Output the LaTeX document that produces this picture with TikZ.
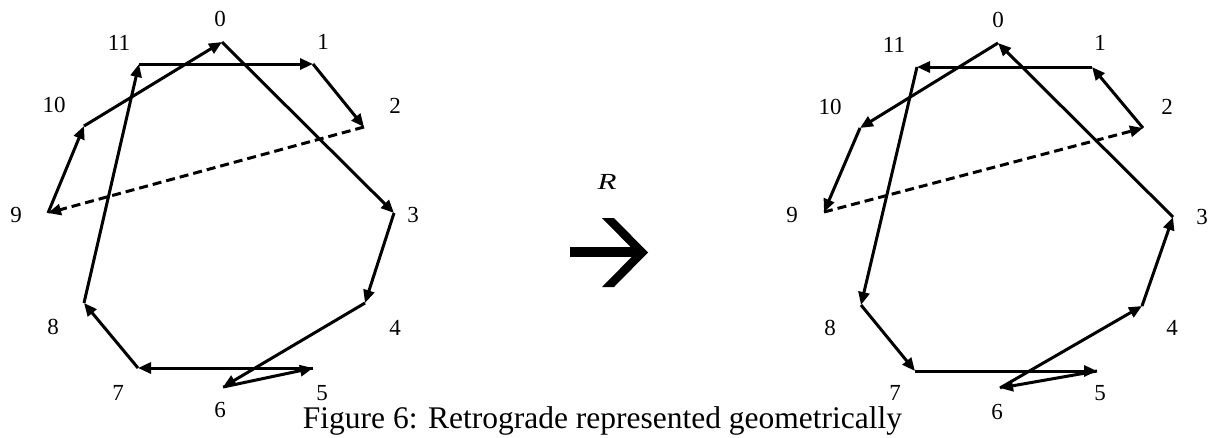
\documentclass[tikz,border=0pt]{standalone}
\usepackage{graphicx}
\usepackage{fontspec}
\setmainfont{Liberation Serif}
\usetikzlibrary{arrows.meta}
\begin{document}
\begin{tikzpicture}[x=1pt,y=-1pt,
  edge/.style={line width=3pt, -{Triangle[length=13pt,width=11pt]}},
  dashedge/.style={edge, dash pattern=on 9pt off 5pt},
  lab/.style={font=\fontsize{23}{23}\selectfont, inner sep=0pt},
  captext/.style={font=\fontsize{31.5}{31.5}\selectfont, inner sep=0pt}]
\useasboundingbox (0,0) rectangle (1212,437);
% ---------- left figure ----------
\coordinate (L0) at (222,42);
\coordinate (L1) at (313,64);
\coordinate (L2) at (364,127);
\coordinate (L3) at (394,213);
\coordinate (L4) at (365,303);
\coordinate (L5) at (313,368);
\coordinate (L6) at (223,387);
\coordinate (L7) at (138,368);
\coordinate (L8) at (84,303);
\coordinate (L9) at (48,213);
\coordinate (L10) at (84,126);
\coordinate (L11) at (139,64);
\node[lab] (l0) at (220,19) {0};
\node[lab] (l1) at (323,42) {1};
\node[lab] (l2) at (395,106) {2};
\node[lab] (l3) at (413,215) {3};
\node[lab] (l4) at (395,328) {4};
\node[lab] (l5) at (322,393) {5};
\node[lab] (l6) at (220,410) {6};
\node[lab] (l7) at (118,393) {7};
\node[lab] (l8) at (53,327) {8};
\node[lab] (l9) at (16,215) {9};
\node[lab] (l10) at (54,105) {10};
\node[lab] (l11) at (119,43) {11};
\draw[edge] (L0) -- (L3);
\draw[edge] (L3) -- (L4);
\draw[edge] (L4) -- (L6);
\draw[edge] (L6) -- (L5);
\draw[edge] (L5) -- (L7);
\draw[edge] (L7) -- (L8);
\draw[edge] (L8) -- (L11);
\draw[edge] (L11) -- (L1);
\draw[edge] (L1) -- (L2);
\draw[dashedge] (L2) -- (L9);
\draw[edge] (L9) -- (L10);
\draw[edge] (L10) -- (L0);
% ---------- right figure ----------
\coordinate (R0) at (998,43);
\coordinate (R1) at (1092,67);
\coordinate (R2) at (1143,128);
\coordinate (R3) at (1173,217);
\coordinate (R4) at (1142,306);
\coordinate (R5) at (1097,371);
\coordinate (R6) at (1000,388);
\coordinate (R7) at (915,371);
\coordinate (R8) at (861,305);
\coordinate (R9) at (824,212);
\coordinate (R10) at (860,128);
\coordinate (R11) at (917,67);
\node[lab] (r0) at (998,20) {0};
\node[lab] (r1) at (1100,43) {1};
\node[lab] (r2) at (1167,107) {2};
\node[lab] (r3) at (1202,217) {3};
\node[lab] (r4) at (1172,328) {4};
\node[lab] (r5) at (1100,393) {5};
\node[lab] (r6) at (997,412) {6};
\node[lab] (r7) at (895,393) {7};
\node[lab] (r8) at (830,328) {8};
\node[lab] (r9) at (792,215) {9};
\node[lab] (r10) at (830,107) {10};
\node[lab] (r11) at (894,45) {11};
\draw[edge] (R3) -- (R0);
\draw[edge] (R4) -- (R3);
\draw[edge] (R6) -- (R4);
\draw[edge] (R5) -- (R6);
\draw[edge] (R7) -- (R5);
\draw[edge] (R8) -- (R7);
\draw[edge] (R11) -- (R8);
\draw[edge] (R1) -- (R11);
\draw[edge] (R2) -- (R1);
\draw[dashedge] (R9) -- (R2);
\draw[edge] (R10) -- (R9);
\draw[edge] (R0) -- (R10);
% ---------- middle ----------
\node[font=\fontsize{23}{23}\selectfont\itshape, inner sep=0pt] (rlab) at (607,182) {\scalebox{1.35}[1]{R}};
\fill (570,247) -- (636,247) -- (636,257) -- (570,257) -- cycle;
\fill (602,218) -- (614,218) -- (648,252.5) -- (614,287) -- (602,287) -- (636,252.5) -- cycle;
\node[captext, anchor=base] (caption) at (602.5,428) {Figure 6: Retrograde represented geometrically};
\end{tikzpicture}
\end{document}
